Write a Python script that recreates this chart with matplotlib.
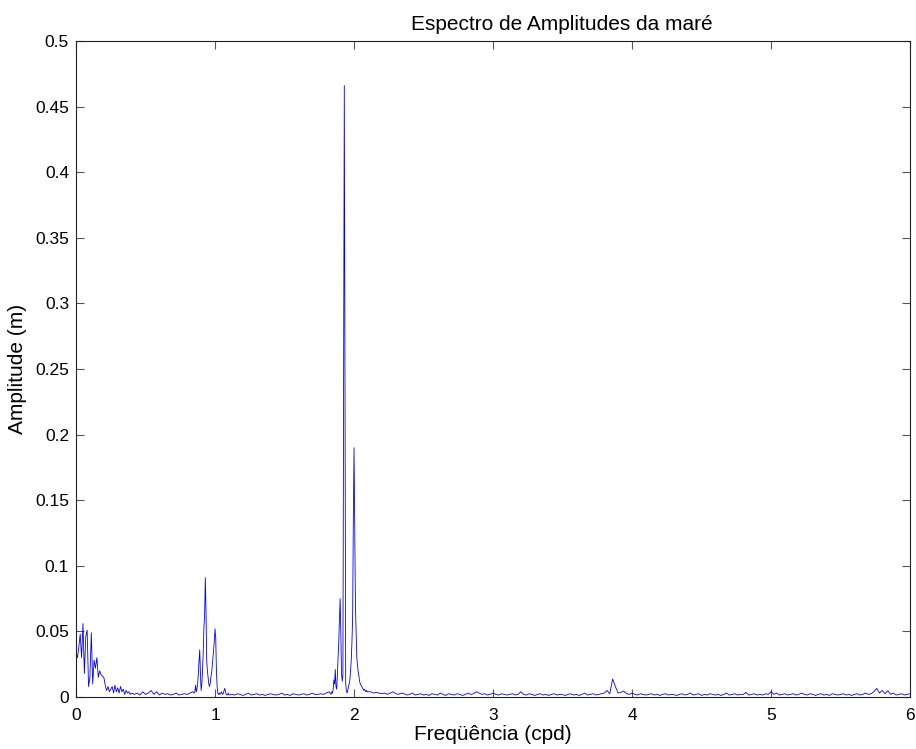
# Espectro de amplitudes da maré (recriação)
import numpy as np
import matplotlib
matplotlib.use('Agg')
import matplotlib.pyplot as plt

plt.rcParams['font.family'] = ['Liberation Sans', 'DejaVu Sans']

# Cada trecho: frequência inicial (cpd), passo (cpd) e amplitudes (m)
# Baixa frequência
low_f0, low_df = 0.0, 0.01
low_amp = [0.034, 0.030, 0.038, 0.048, 0.030, 0.056, 0.018, 0.046, 0.051, 0.008,
           0.015, 0.049, 0.010, 0.028, 0.022, 0.030, 0.015, 0.020, 0.017, 0.016,
           0.015, 0.009, 0.005, 0.008, 0.004, 0.006, 0.008, 0.003, 0.009, 0.004,
           0.007, 0.003, 0.008, 0.004, 0.006, 0.002, 0.005, 0.003, 0.004, 0.002,
           0.003]

# Fundo entre 0.42 e 0.84
bg1_f0, bg1_df = 0.42, 0.02
bg1_amp = [0.002, 0.003, 0.0015, 0.004, 0.002, 0.003, 0.005, 0.002, 0.004, 0.0015,
           0.003, 0.002, 0.0025, 0.0015, 0.002, 0.003, 0.0015, 0.002, 0.0025, 0.002,
           0.003, 0.004]

# Banda diurna (Q1, O1, K1)
diu_f0, diu_df = 0.85, 0.005
diu_amp = [0.003, 0.004, 0.009, 0.004, 0.006, 0.010, 0.018, 0.028, 0.036, 0.018,
           0.005, 0.010, 0.020, 0.034, 0.053, 0.062, 0.091, 0.066, 0.028, 0.020,
           0.015, 0.010, 0.008, 0.010, 0.015, 0.018, 0.024, 0.030, 0.036, 0.043,
           0.052, 0.045, 0.020, 0.008, 0.003, 0.002, 0.003, 0.002, 0.0025, 0.004,
           0.003, 0.002, 0.003, 0.005, 0.0066, 0.004, 0.002, 0.0015, 0.002, 0.003,
           0.0015]

# Fundo entre 1.12 e 1.82
bg2_f0, bg2_df = 1.12, 0.02
bg2_amp = [0.002, 0.0015, 0.0025, 0.002, 0.0012, 0.002, 0.003, 0.0015, 0.002, 0.0025,
           0.0015, 0.002, 0.0012, 0.002, 0.0025, 0.0018, 0.0015, 0.002, 0.003, 0.0015,
           0.002, 0.0012, 0.0025, 0.002, 0.0015, 0.002, 0.0025, 0.0015, 0.002, 0.003,
           0.0018, 0.002, 0.0025, 0.002, 0.003, 0.004]

# Banda semidiurna (N2, M2, S2)
sem_f0, sem_df = 1.83, 0.005
sem_amp = [0.003, 0.002, 0.004, 0.003, 0.006, 0.013, 0.010, 0.021, 0.008, 0.006,
           0.016, 0.030, 0.041, 0.060, 0.075, 0.049, 0.018, 0.012, 0.017, 0.242,
           0.466, 0.235, 0.010, 0.005, 0.003, 0.005, 0.008, 0.010, 0.013, 0.020,
           0.028, 0.042, 0.061, 0.137, 0.190, 0.125, 0.070, 0.049, 0.030, 0.024,
           0.019, 0.016, 0.012, 0.010, 0.009, 0.008, 0.007, 0.006, 0.005, 0.006,
           0.005, 0.004, 0.005, 0.004, 0.004]

# Fundo entre 2.12 e 6.00
bg3_f0, bg3_df = 2.12, 0.02
bg3_amp = [0.004, 0.003, 0.0035, 0.003, 0.0025, 0.003, 0.002, 0.003, 0.004, 0.0025,
           0.002, 0.003, 0.0025, 0.0015, 0.002, 0.003, 0.0015, 0.002, 0.0025, 0.0015,
           0.002, 0.0012, 0.0025, 0.002, 0.0015, 0.003, 0.002, 0.0012, 0.0025, 0.002,
           0.0015, 0.0025, 0.002, 0.0012, 0.002, 0.003, 0.002, 0.0025, 0.004, 0.003,
           0.002, 0.0025, 0.0015, 0.002, 0.003, 0.002, 0.0015, 0.0025, 0.002, 0.0015,
           0.002, 0.0025, 0.0015, 0.002, 0.004, 0.002, 0.0015, 0.0025, 0.002, 0.0012,
           0.002, 0.0025, 0.0015, 0.002, 0.0012, 0.002, 0.0025, 0.0015, 0.002, 0.0018,
           0.0012, 0.002, 0.0025, 0.0015, 0.002, 0.0012, 0.002, 0.003, 0.0015, 0.002,
           0.0025, 0.0015, 0.002, 0.0025, 0.003, 0.005, 0.0025, 0.0137, 0.008, 0.003,
           0.0035, 0.0046, 0.0025, 0.002, 0.003, 0.002, 0.0015, 0.0025, 0.002, 0.0015,
           0.002, 0.0025, 0.0015, 0.002, 0.0012, 0.002, 0.0025, 0.0015, 0.002, 0.0018,
           0.0012, 0.002, 0.0025, 0.0015, 0.002, 0.003, 0.0015, 0.002, 0.0025, 0.0012,
           0.002, 0.0015, 0.0025, 0.002, 0.0015, 0.002, 0.0012, 0.002, 0.003, 0.0015,
           0.002, 0.0025, 0.0015, 0.002, 0.002, 0.0035, 0.0015, 0.002, 0.0025, 0.0015,
           0.002, 0.0015, 0.0025, 0.002, 0.004, 0.002, 0.003, 0.0015, 0.002, 0.0025,
           0.0015, 0.002, 0.0025, 0.0015, 0.002, 0.003, 0.002, 0.0015, 0.0025, 0.002,
           0.0012, 0.002, 0.0025, 0.0015, 0.002, 0.0012, 0.0025, 0.002, 0.0015, 0.002,
           0.0025, 0.0015, 0.002, 0.0012, 0.002, 0.0025, 0.0015, 0.002, 0.003, 0.002,
           0.0025, 0.004, 0.0066, 0.003, 0.005, 0.0025, 0.0048, 0.002, 0.003, 0.0015,
           0.002, 0.0025, 0.0015, 0.002, 0.0025]

x_ticks = [0, 1, 2, 3, 4, 5, 6]
y_ticks = [0, 0.05, 0.1, 0.15, 0.2, 0.25, 0.3, 0.35, 0.4, 0.45, 0.5]
y_labels = ['0', '0.05', '0.1', '0.15', '0.2', '0.25', '0.3', '0.35', '0.4', '0.45', '0.5']


def segment(f0, df, amps):
    return f0 + df * np.arange(len(amps)), np.array(amps)


parts = [segment(low_f0, low_df, low_amp),
         segment(bg1_f0, bg1_df, bg1_amp),
         segment(diu_f0, diu_df, diu_amp),
         segment(bg2_f0, bg2_df, bg2_amp),
         segment(sem_f0, sem_df, sem_amp),
         segment(bg3_f0, bg3_df, bg3_amp)]
freq = np.concatenate([p[0] for p in parts])
amp = np.concatenate([p[1] for p in parts])

fig = plt.figure(figsize=(9.16, 7.49), dpi=100)
ax = fig.add_axes([0.083, 0.0694, 0.9105, 0.8759])

ax.plot(freq, amp, color='#0000ff', linewidth=0.6)

ax.set_xlim(0, 6)
ax.set_ylim(0, 0.5)
ax.set_xticks(x_ticks)
ax.set_yticks(y_ticks)
ax.set_yticklabels(y_labels)
ax.tick_params(direction='in', top=True, right=True, length=6, width=0.8,
               labelsize=12.5, color='#555555')
ax.tick_params(axis='x', pad=8)
ax.tick_params(axis='y', pad=5)
for s in ax.spines.values():
    s.set_linewidth(0.8)
    s.set_color('#222222')

ax.set_xlabel('Freqüência (cpd)', fontsize=15, labelpad=1)
ax.set_ylabel('Amplitude (m)', fontsize=15, labelpad=6)
ax.text(0.583, 1.01, 'Espectro de Amplitudes da maré', transform=ax.transAxes,
        ha='center', va='bottom', fontsize=15)

plt.savefig('out.png', dpi=100)
plt.close()
